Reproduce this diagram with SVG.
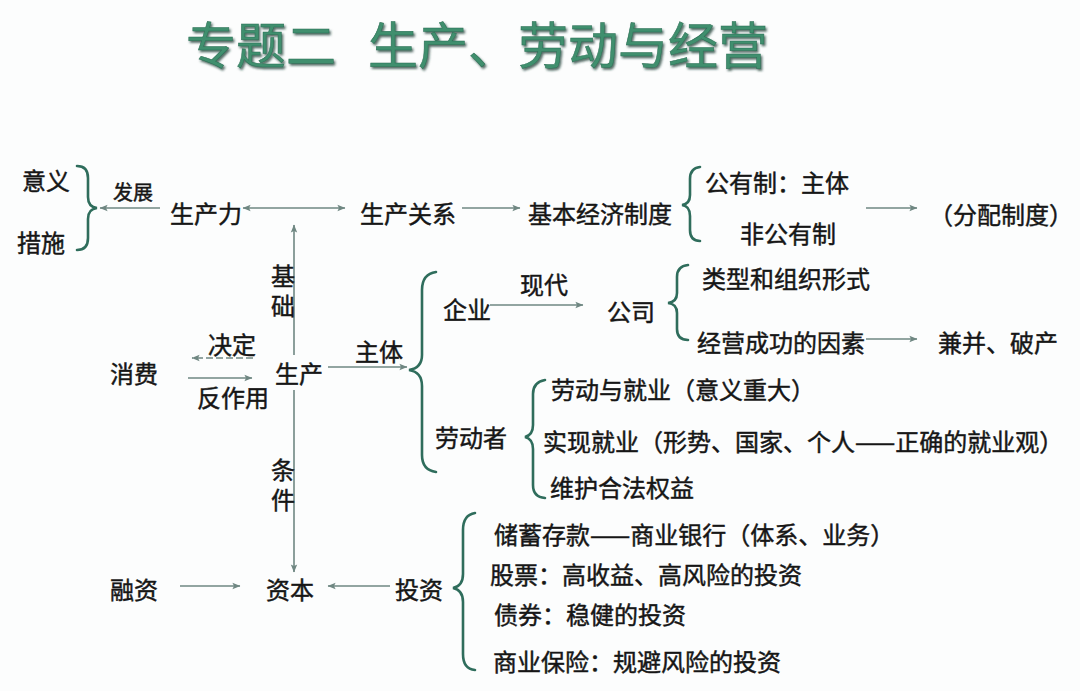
<svg xmlns="http://www.w3.org/2000/svg" width="1080" height="691" viewBox="0 0 1080 691">
<style>
text{font-family:"Noto Sans CJK SC","Noto Sans CJK TC",sans-serif;fill:#161616;font-size:24px;dominant-baseline:central;stroke:#161616;stroke-width:0.45px}
.sm{font-size:20px}
.vt{writing-mode:vertical-rl;letter-spacing:6px}
.title{font-size:50px;fill:#3f8f6e;stroke:#2c6e54;stroke-width:0.5px;filter:url(#sh)}
.ln{fill:none;stroke:#6f8782;stroke-width:1.6}
.br{fill:none;stroke:#2f6d5c;stroke-width:2.6;stroke-linecap:round}
</style>
<defs>
<marker id="ah" viewBox="0 0 10 10" refX="9.5" refY="5" markerWidth="9" markerHeight="8" markerUnits="userSpaceOnUse" orient="auto-start-reverse">
<path d="M0,1 L10,5 L0,9 L2,5 z" fill="#6f8782"/>
</marker>
<filter id="sh" x="-5%" y="-20%" width="110%" height="150%">
<feDropShadow dx="1.5" dy="2" stdDeviation="0.8" flood-color="#1b3b30" flood-opacity="0.75"/>
</filter>
</defs>
<rect width="1080" height="691" fill="#fcfdfd"/>

<g id="title"><text class="title" y="42"><tspan x="186">专题二</tspan><tspan x="368">生产、劳动与经营</tspan></text></g>

<g id="braces">
<path class="br" d="M77,166 Q88,166 88,178 L88,197 Q88,207 97,208 Q88,209 88,219 L88,238 Q88,250 77,250"/>
<path class="br" d="M700,167 Q690,168 690,179 L690,195 Q690,204 682,205 Q690,206 690,216 L690,230 Q690,241 700,241"/>
<path class="br" d="M436,272 Q422,274 422,290 L422,355 Q422,368 409,370 Q422,372 422,386 L422,455 Q422,470 436,472"/>
<path class="br" d="M688,265 Q677,266 677,277 L677,293 Q677,302 668,303 Q677,304 677,313 L677,329 Q677,340 688,340"/>
<path class="br" d="M545,380 Q533,382 533,394 L533,425 Q533,435 525,437 Q533,439 533,449 L533,485 Q533,497 545,498"/>
<path class="br" d="M475,513 Q463,515 463,530 L463,574 Q463,586 453,588 Q463,590 463,602 L463,654 Q463,669 475,670"/>
</g>

<g id="connectors">
<line class="ln" x1="160" y1="208" x2="100" y2="208" marker-end="url(#ah)"/>
<line class="ln" x1="243" y1="208" x2="345" y2="208" marker-start="url(#ah)" marker-end="url(#ah)"/>
<line class="ln" x1="462" y1="208" x2="520" y2="208" marker-end="url(#ah)"/>
<line class="ln" x1="866" y1="208" x2="917" y2="208" marker-end="url(#ah)"/>
<line class="ln" x1="294" y1="355" x2="294" y2="225" marker-end="url(#ah)"/>
<line class="ln" x1="294" y1="390" x2="294" y2="572" marker-end="url(#ah)"/>
<line class="ln" x1="253" y1="358" x2="192" y2="358" stroke-dasharray="7 3" marker-end="url(#ah)"/>
<line class="ln" x1="188" y1="378" x2="252" y2="378" marker-end="url(#ah)"/>
<line class="ln" x1="328" y1="367" x2="407" y2="367" marker-end="url(#ah)"/>
<line class="ln" x1="490" y1="305" x2="583" y2="305" marker-end="url(#ah)"/>
<line class="ln" x1="866" y1="339" x2="917" y2="339" marker-end="url(#ah)"/>
<line class="ln" x1="180" y1="586" x2="240" y2="586" marker-end="url(#ah)"/>
<line class="ln" x1="390" y1="586" x2="328" y2="586" marker-end="url(#ah)"/>
</g>

<g id="n-yiyi"><text x="22" y="179">意义</text></g>
<g id="n-cuoshi"><text x="17" y="241">措施</text></g>
<g id="l-fazhan"><text class="sm" x="113" y="191">发展</text></g>
<g id="n-shengchanli"><text x="170" y="212">生产力</text></g>
<g id="n-shengchanguanxi"><text x="360" y="212">生产关系</text></g>
<g id="n-jibenjingjizhidu"><text x="528" y="212">基本经济制度</text></g>
<g id="n-gongyouzhi"><text x="705" y="181">公有制：主体</text></g>
<g id="n-feigongyouzhi"><text x="740" y="232">非公有制</text></g>
<g id="n-fenpeizhidu"><text x="929" y="213">（分配制度）</text></g>
<g id="l-jichu"><text class="vt" x="283" y="264">基础</text></g>
<g id="l-jueding"><text x="208" y="343">决定</text></g>
<g id="n-xiaofei"><text x="110" y="372">消费</text></g>
<g id="l-fanzuoyong"><text x="197" y="396">反作用</text></g>
<g id="n-shengchan"><text x="275" y="372">生产</text></g>
<g id="l-zhuti"><text x="355" y="350">主体</text></g>
<g id="n-qiye"><text x="443" y="308">企业</text></g>
<g id="l-xiandai"><text x="520" y="283">现代</text></g>
<g id="n-gongsi"><text x="607" y="310">公司</text></g>
<g id="n-leixing"><text x="702" y="277">类型和组织形式</text></g>
<g id="n-jingying"><text x="697" y="341">经营成功的因素</text></g>
<g id="n-jianbing"><text x="938" y="341">兼并、破产</text></g>
<g id="n-laodongzhe"><text x="435" y="436">劳动者</text></g>
<g id="n-laodongjiuye"><text x="551" y="388">劳动与就业（意义重大）</text></g>
<g id="n-shixianjiuye"><text x="543" y="440">实现就业（形势、国家、个人——正确的就业观）</text></g>
<g id="n-weihu"><text x="550" y="486">维护合法权益</text></g>
<g id="l-tiaojian"><text class="vt" x="283" y="458">条件</text></g>
<g id="n-rongzi"><text x="110" y="588">融资</text></g>
<g id="n-ziben"><text x="266" y="588">资本</text></g>
<g id="n-touzi"><text x="395" y="588">投资</text></g>
<g id="n-chuxu"><text x="494" y="533">储蓄存款——商业银行（体系、业务）</text></g>
<g id="n-gupiao"><text x="490" y="573">股票：高收益、高风险的投资</text></g>
<g id="n-zhaiquan"><text x="494" y="613">债券：稳健的投资</text></g>
<g id="n-baoxian"><text x="493" y="660">商业保险：规避风险的投资</text></g>
</svg>
